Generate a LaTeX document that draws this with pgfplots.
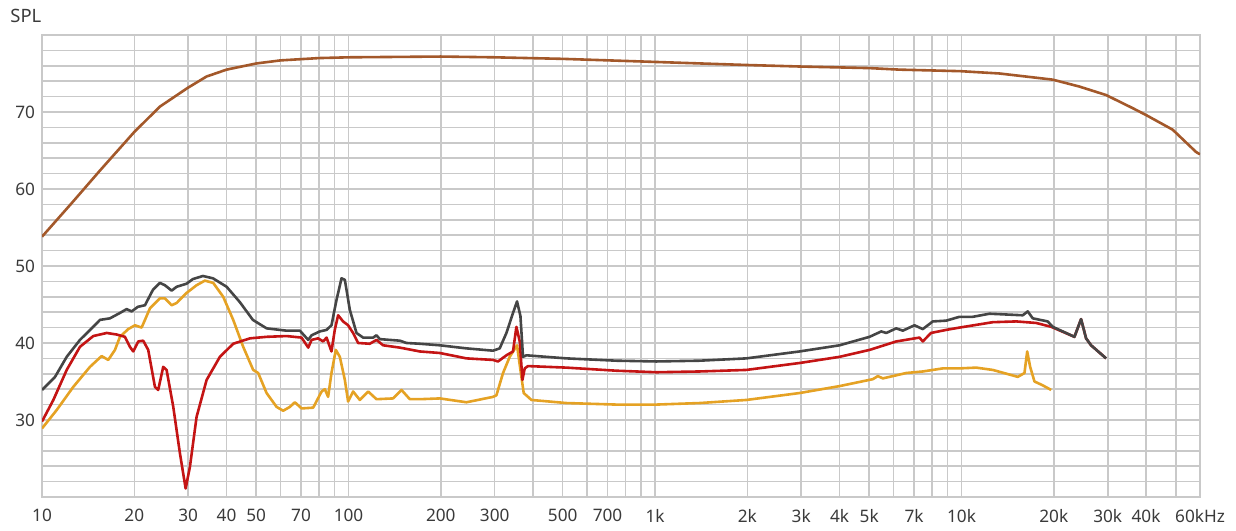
\documentclass[border=0pt]{standalone}
\usepackage{pgfplots}
\pgfplotsset{compat=1.18}
\usepackage{fontspec}
\setmainfont{Noto Sans}
\definecolor{cbrown}{HTML}{A3582A}
\definecolor{cblack}{HTML}{454545}
\definecolor{cred}{HTML}{C41414}
\definecolor{corange}{HTML}{E5A224}
\definecolor{gridl}{HTML}{C9C9C9}
\definecolor{gridd}{HTML}{7E7E7E}
\definecolor{txt}{HTML}{3A3A3A}
\begin{document}
\begin{tikzpicture}
\begin{axis}[
  name=ax,
  xmode=log, log basis x=10,
  scale only axis, width=579pt, height=231pt,
  xmin=10, xmax=60000, ymin=20, ymax=80,
  axis line style={draw=gridl, line width=0.8pt},
  xtick={10,20,30,40,50,70,200,300,500,700,2000,3000,4000,5000,7000,20000,30000,40000,60000},
  xticklabels={10,20,30,40,50,70,200,300,500,700,2k,3k,4k,5k,7k,20k,30k,40k,60kHz},
  extra x ticks={100,1000,10000},
  extra x tick labels={100,1k,10k},
  extra x tick style={grid style={draw=gridd, line width=0.75pt}},
  minor xtick={60,80,90,400,600,800,900,6000,8000,9000,50000},
  ytick={30,40,50,60,70},
  minor ytick={22,24,26,28,32,34,36,38,42,44,46,48,52,54,56,58,62,64,66,68,72,74,76,78},
  grid=both,
  major grid style={draw=gridl, line width=0.75pt},
  minor grid style={draw=gridl, line width=0.75pt},
  major tick length=0pt, minor tick length=0pt,
  tick label style={font=\fontsize{8.6}{10}\selectfont, text=txt},
  /pgf/number format/assume math mode=true,
  xticklabel style={yshift=-2.5pt},
  yticklabel style={xshift=0pt},
  log ticks with fixed point,
  clip=true,
  every axis plot/.append style={line width=1.3pt, line join=round, mark=none},
]
% brown
\addplot[cbrown] coordinates {
(10,53.8)(12.65,58.4)(15.46,62.4)(20,67.4)(24.25,70.7)(29.8,73.1)(34.4,74.6)(40,75.5)(50,76.3)(60,76.7)(80,77.0)(100,77.1)(200,77.2)(300,77.1)(500,76.9)(1000,76.5)(2000,76.1)(3000,75.9)(5000,75.7)(6277,75.5)(9915,75.3)(13296,75.0)(19842,74.2)(24250,73.3)(29630,72.2)(36180,70.5)(40020,69.6)(48860,67.7)(58260,64.8)(60000,64.5)
};
% orange
\addplot[corange] coordinates {
(10,28.9)(11.17,31.3)(12.65,34.3)(14.34,36.9)(15.65,38.3)(16.45,37.8)(17.30,39.1)(17.96,40.8)(19.11,41.8)(20.11,42.3)(21.14,42.0)(22.50,44.5)(24.25,45.8)(25.18,45.8)(26.48,44.9)(27.50,45.2)(29.63,46.5)(31.94,47.5)(34.0,48.1)(36.2,47.8)(39.02,46.0)(42.06,43.0)(45.34,39.5)(48.87,36.5)(50.74,36.1)(54.04,33.5)(58.26,31.7)(61.22,31.2)(64.38,31.7)(66.83,32.3)(70.3,31.5)(76.7,31.6)(81.7,33.7)(83.7,34.0)(85.8,33.0)(88.0,36.1)(90.9,39.1)(93.7,38.2)(97.3,35.2)(99.7,32.4)(103.5,33.7)(108.9,32.6)(115.9,33.7)(123.4,32.7)(139.8,32.8)(148.9,33.9)(158.5,32.7)(170.9,32.7)(198.6,32.8)(242.6,32.3)(296.1,33.0)(303.8,33.2)(319.3,36.1)(335.7,38.2)(354.7,39.7)(363.9,36.5)(373.0,33.5)(395.3,32.6)(514,32.2)(748,32.0)(1010,32.0)(1398,32.2)(1986,32.6)(2963,33.5)(4000,34.4)(5137,35.3)(5333,35.7)(5538,35.4)(6599,36.1)(7476,36.3)(8689,36.7)(9849,36.7)(11164,36.8)(12650,36.5)(15260,35.6)(16050,36.1)(16380,38.9)(16750,36.9)(17300,35.0)(18410,34.5)(19616,33.9)
};
% red
\addplot[cred] coordinates {
(10,29.8)(10.89,32.6)(12.04,36.5)(13.3,39.5)(14.7,40.9)(16.26,41.3)(17.52,41.1)(18.65,40.8)(19.36,39.5)(19.85,38.9)(20.61,40.2)(21.39,40.3)(22.21,39.1)(23.36,34.3)(23.94,33.9)(24.86,36.9)(25.50,36.5)(26.81,31.7)(28.18,25.7)(29.42,21.1)(30.38,23.9)(31.94,30.4)(34.44,35.2)(38.05,38.2)(42.06,39.9)(47.68,40.6)(54.04,40.8)(62.8,40.9)(70.3,40.7)(73.9,39.4)(75.8,40.4)(79.6,40.6)(82.7,40.2)(84.8,40.7)(88.0,38.9)(90.2,41.7)(92.5,43.6)(96.0,42.8)(99.7,42.3)(103.5,41.3)(107.5,40.0)(117.3,39.9)(123.4,40.4)(129.7,39.7)(147,39.4)(170.9,38.9)(198.6,38.7)(242.6,38.0)(296.1,37.8)(307.5,37.6)(327.5,38.4)(344.2,38.9)(353.0,42.1)(362.0,40.2)(369.4,35.2)(375.8,36.7)(385.2,37.0)(514,36.8)(748,36.4)(1010,36.2)(1398,36.3)(1986,36.5)(2963,37.4)(4000,38.2)(5012,39.1)(6124,40.2)(7295,40.7)(7476,40.2)(7952,41.3)(8913,41.7)(9849,42.0)(12650,42.7)(15082,42.8)(17524,42.6)(19616,42.1)(23360,40.8)(24555,43.1)(25495,40.6)(26470,39.7)(29630,38.0)
};
% black
\addplot[cblack] coordinates {
(10,33.9)(11.03,35.6)(12.04,38.2)(13.3,40.4)(14.7,42.1)(15.46,43.0)(16.66,43.2)(17.96,43.9)(18.89,44.4)(19.61,44.1)(20.56,44.7)(21.67,44.9)(23.01,46.9)(24.25,47.8)(25.18,47.5)(26.48,46.8)(27.5,47.3)(29.63,47.7)(31.07,48.3)(33.5,48.7)(36.12,48.4)(40.03,47.3)(44.22,45.3)(48.75,43.0)(54.04,41.9)(62.8,41.6)(69.4,41.6)(73.9,40.4)(75.8,41.0)(80.6,41.5)(84.8,41.7)(88.0,42.3)(91.4,45.6)(94.9,48.4)(97.3,48.2)(101.0,44.3)(106.2,41.3)(111.6,40.7)(120.3,40.7)(123.4,41.0)(126.5,40.5)(147,40.3)(154.6,40.0)(170.9,39.9)(198.6,39.7)(242.6,39.3)(296.1,39.0)(311.4,39.3)(327.5,41.3)(344.2,43.9)(354.7,45.4)(363.9,43.5)(371.0,38.2)(380.6,38.4)(514,38.0)(748,37.7)(1010,37.6)(1398,37.7)(1986,38.0)(2963,38.9)(4000,39.7)(5012,40.8)(5472,41.5)(5682,41.3)(6124,41.9)(6434,41.6)(7026,42.3)(7476,41.8)(8060,42.8)(8913,42.9)(9849,43.4)(10886,43.4)(12340,43.8)(15843,43.6)(16448,44.1)(17078,43.2)(19110,42.8)(19842,42.1)(23360,40.8)(24555,43.1)(25495,40.6)(26470,39.7)(29630,38.0)
};
\end{axis}
\node[anchor=south west, inner sep=0pt, font=\fontsize{9.2}{10}\selectfont, text=txt] at ([xshift=-16pt,yshift=6pt]ax.north west) {SPL};
\pgfresetboundingbox
\path ([xshift=-21pt,yshift=-17pt]ax.south west) rectangle ([xshift=18pt,yshift=17.5pt]ax.north east);
\end{tikzpicture}
\end{document}
